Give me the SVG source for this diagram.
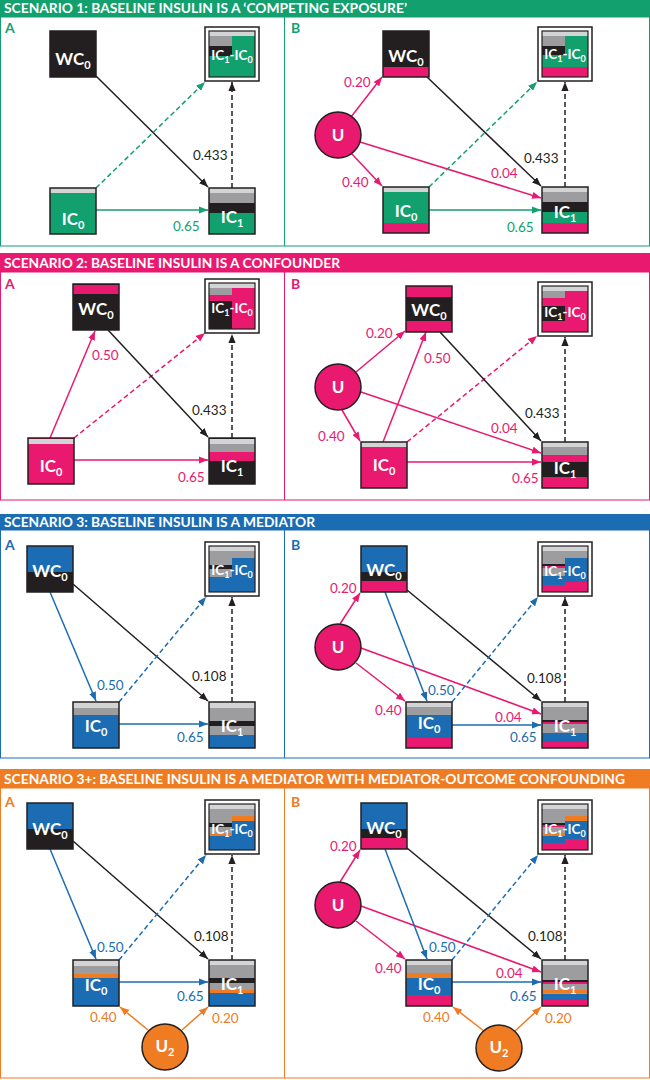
<svg xmlns="http://www.w3.org/2000/svg" width="650" height="1080" viewBox="0 0 650 1080">
<defs>
<style>
.k{fill:#231f20}.g{fill:#12a06e}.p{fill:#e8196f}.b{fill:#1b6cb2}.o{fill:#ef7b22}.gr{fill:#9d9d9f}.lg{fill:#d3d4d5}
.bd{fill:none;stroke:#231f20;stroke-width:1.5}
.ib{fill:none;stroke:#231f20;stroke-width:1.2}
.ob{fill:#fff;stroke:#231f20;stroke-width:1.5}
.nt{font-family:Lato,'Liberation Sans',sans-serif;font-weight:700;fill:#fff;font-size:17px;text-anchor:middle}
.dt{font-size:13.5px}
.sub{font-size:11px}
.sb{font-size:9px}
.hd{font-family:Lato,'Liberation Sans',sans-serif;font-weight:700;fill:#fff;font-size:12.5px}
.pl{font-family:Lato,'Liberation Sans',sans-serif;font-weight:700;font-size:14px}
.lb{font-family:Lato,'Liberation Sans',sans-serif;font-size:13.5px}
.e{stroke-width:1.5;fill:none}
.ek{stroke:#231f20}.eg{stroke:#12a06e}.ep{stroke:#e8196f}.eb{stroke:#1b6cb2}.eo{stroke:#ef7b22}
.d{stroke-dasharray:5 3}
.cu{stroke:#231f20;stroke-width:1.5}
.tk{fill:#231f20}.tg{fill:#12a06e}.tp{fill:#e8196f}.tb{fill:#1b6cb2}.to{fill:#ef7b22}
</style>
<marker id="mk" viewBox="0 0 10 8" refX="10" refY="4" markerWidth="9" markerHeight="7.2" markerUnits="userSpaceOnUse" orient="auto"><path d="M0,0 L10,4 L0,8 z" fill="#231f20"/></marker>
<marker id="mg" viewBox="0 0 10 8" refX="10" refY="4" markerWidth="9" markerHeight="7.2" markerUnits="userSpaceOnUse" orient="auto"><path d="M0,0 L10,4 L0,8 z" fill="#12a06e"/></marker>
<marker id="mp" viewBox="0 0 10 8" refX="10" refY="4" markerWidth="9" markerHeight="7.2" markerUnits="userSpaceOnUse" orient="auto"><path d="M0,0 L10,4 L0,8 z" fill="#e8196f"/></marker>
<marker id="mb" viewBox="0 0 10 8" refX="10" refY="4" markerWidth="9" markerHeight="7.2" markerUnits="userSpaceOnUse" orient="auto"><path d="M0,0 L10,4 L0,8 z" fill="#1b6cb2"/></marker>
<marker id="mo" viewBox="0 0 10 8" refX="10" refY="4" markerWidth="9" markerHeight="7.2" markerUnits="userSpaceOnUse" orient="auto"><path d="M0,0 L10,4 L0,8 z" fill="#ef7b22"/></marker>
</defs>
<rect width="650" height="1080" fill="#fff"/>

<!-- Panels and headers -->
<g id="panels">
<rect x="0" y="0" width="650" height="17" fill="#12a06e"/>
<text class="hd" x="4" y="12.5" textLength="403" lengthAdjust="spacingAndGlyphs">SCENARIO 1: BASELINE INSULIN IS A ‘COMPETING EXPOSURE’</text>
<rect x="0.5" y="17" width="649" height="229" fill="none" stroke="#12a06e" stroke-width="1"/>
<line x1="284.5" y1="17" x2="284.5" y2="246" stroke="#12a06e" stroke-width="1"/>
<text class="pl tg" x="5" y="33">A</text><text class="pl tg" x="291" y="33">B</text>

<rect x="0" y="253" width="650" height="19" fill="#e8196f"/>
<text class="hd" x="4" y="268" textLength="336" lengthAdjust="spacingAndGlyphs">SCENARIO 2: BASELINE INSULIN IS A CONFOUNDER</text>
<rect x="0.5" y="272" width="649" height="228" fill="none" stroke="#e8196f" stroke-width="1"/>
<line x1="284.5" y1="272" x2="284.5" y2="500" stroke="#e8196f" stroke-width="1"/>
<text class="pl tp" x="5" y="289">A</text><text class="pl tp" x="291" y="289">B</text>

<rect x="0" y="514" width="650" height="16" fill="#1b6cb2"/>
<text class="hd" x="4" y="527" textLength="311" lengthAdjust="spacingAndGlyphs">SCENARIO 3: BASELINE INSULIN IS A MEDIATOR</text>
<rect x="0.5" y="530" width="649" height="228" fill="none" stroke="#1b6cb2" stroke-width="1"/>
<line x1="284.5" y1="530" x2="284.5" y2="758" stroke="#1b6cb2" stroke-width="1"/>
<text class="pl tb" x="5" y="550">A</text><text class="pl tb" x="291" y="550">B</text>

<rect x="0" y="769" width="650" height="19" fill="#ef7b22"/>
<text class="hd" x="4" y="784" textLength="621" lengthAdjust="spacingAndGlyphs">SCENARIO 3+: BASELINE INSULIN IS A MEDIATOR WITH MEDIATOR-OUTCOME CONFOUNDING</text>
<rect x="0.5" y="788" width="649" height="290" fill="none" stroke="#ef7b22" stroke-width="1"/>
<line x1="284.5" y1="788" x2="284.5" y2="1078" stroke="#ef7b22" stroke-width="1"/>
<text class="pl to" x="5" y="807">A</text><text class="pl to" x="291" y="807">B</text>
</g>

<!-- Connectors -->
<g id="connectors">
<!-- S1A -->
<line class="e ek" x1="96" y1="76" x2="208" y2="187" marker-end="url(#mk)"/>
<line class="e eg d" x1="96" y1="188" x2="205" y2="82" marker-end="url(#mg)"/>
<line class="e eg" x1="96" y1="210" x2="208" y2="210" marker-end="url(#mg)"/>
<line class="e ek d" x1="232" y1="188" x2="232" y2="82" marker-end="url(#mk)"/>
<!-- S1B -->
<line class="e ep" x1="351" y1="117" x2="382" y2="77" marker-end="url(#mp)"/>
<line class="e ep" x1="351" y1="153" x2="382" y2="186" marker-end="url(#mp)"/>
<line class="e ep" x1="360" y1="142" x2="541" y2="198" marker-end="url(#mp)"/>
<line class="e ek" x1="427" y1="77" x2="541" y2="186" marker-end="url(#mk)"/>
<line class="e eg d" x1="429" y1="187" x2="537" y2="82" marker-end="url(#mg)"/>
<line class="e eg" x1="429" y1="210" x2="541" y2="210" marker-end="url(#mg)"/>
<line class="e ek d" x1="565" y1="187" x2="565" y2="82" marker-end="url(#mk)"/>
<!-- S2A -->
<line class="e ep" x1="50" y1="438" x2="95" y2="331" marker-end="url(#mp)"/>
<line class="e ep d" x1="74" y1="438" x2="205" y2="333" marker-end="url(#mp)"/>
<line class="e ek" x1="108" y1="330" x2="208" y2="437" marker-end="url(#mk)"/>
<line class="e ep" x1="74" y1="460" x2="208" y2="460" marker-end="url(#mp)"/>
<line class="e ek d" x1="232" y1="438" x2="232" y2="334" marker-end="url(#mk)"/>
<!-- S2B -->
<line class="e ep" x1="356" y1="372" x2="405" y2="331" marker-end="url(#mp)"/>
<line class="e ep" x1="342" y1="410" x2="360" y2="441" marker-end="url(#mp)"/>
<line class="e ep" x1="361" y1="392" x2="541" y2="453" marker-end="url(#mp)"/>
<line class="e ep" x1="383" y1="442" x2="426" y2="332" marker-end="url(#mp)"/>
<line class="e ep d" x1="407" y1="442" x2="537" y2="336" marker-end="url(#mp)"/>
<line class="e ek" x1="440" y1="332" x2="541" y2="441" marker-end="url(#mk)"/>
<line class="e ep" x1="407" y1="462" x2="541" y2="462" marker-end="url(#mp)"/>
<line class="e ek d" x1="565" y1="442" x2="565" y2="337" marker-end="url(#mk)"/>
<!-- S3A -->
<line class="e eb" x1="50" y1="592" x2="96" y2="701" marker-end="url(#mb)"/>
<line class="e ek" x1="73" y1="584" x2="208" y2="701" marker-end="url(#mk)"/>
<line class="e eb d" x1="119" y1="702" x2="206" y2="597" marker-end="url(#mb)"/>
<line class="e eb" x1="119" y1="724" x2="208" y2="724" marker-end="url(#mb)"/>
<line class="e ek d" x1="232" y1="702" x2="232" y2="597" marker-end="url(#mk)"/>
<!-- S3B -->
<line class="e ep" x1="340" y1="624" x2="360" y2="593" marker-end="url(#mp)"/>
<line class="e ep" x1="356" y1="663" x2="405" y2="701" marker-end="url(#mp)"/>
<line class="e ep" x1="361" y1="648" x2="541" y2="714" marker-end="url(#mp)"/>
<line class="e eb" x1="385" y1="592" x2="427" y2="701" marker-end="url(#mb)"/>
<line class="e ek" x1="407" y1="590" x2="541" y2="701" marker-end="url(#mk)"/>
<line class="e eb d" x1="452" y1="702" x2="538" y2="597" marker-end="url(#mb)"/>
<line class="e eb" x1="452" y1="725" x2="541" y2="725" marker-end="url(#mb)"/>
<line class="e ek d" x1="565" y1="702" x2="565" y2="597" marker-end="url(#mk)"/>
<!-- S3+A -->
<line class="e eb" x1="50" y1="849" x2="96" y2="959" marker-end="url(#mb)"/>
<line class="e ek" x1="73" y1="841" x2="208" y2="959" marker-end="url(#mk)"/>
<line class="e eb d" x1="119" y1="960" x2="206" y2="855" marker-end="url(#mb)"/>
<line class="e eb" x1="119" y1="982" x2="208" y2="982" marker-end="url(#mb)"/>
<line class="e ek d" x1="232" y1="960" x2="232" y2="855" marker-end="url(#mk)"/>
<line class="e eo" x1="148" y1="1030" x2="120" y2="1007" marker-end="url(#mo)"/>
<line class="e eo" x1="182" y1="1030" x2="208" y2="1007" marker-end="url(#mo)"/>
<!-- S3+B -->
<line class="e ep" x1="340" y1="882" x2="360" y2="850" marker-end="url(#mp)"/>
<line class="e ep" x1="356" y1="921" x2="405" y2="959" marker-end="url(#mp)"/>
<line class="e ep" x1="361" y1="906" x2="541" y2="972" marker-end="url(#mp)"/>
<line class="e eb" x1="385" y1="849" x2="427" y2="959" marker-end="url(#mb)"/>
<line class="e ek" x1="407" y1="848" x2="541" y2="959" marker-end="url(#mk)"/>
<line class="e eb d" x1="452" y1="960" x2="538" y2="855" marker-end="url(#mb)"/>
<line class="e eb" x1="452" y1="982" x2="541" y2="982" marker-end="url(#mb)"/>
<line class="e ek d" x1="565" y1="960" x2="565" y2="855" marker-end="url(#mk)"/>
<line class="e eo" x1="484" y1="1031" x2="453" y2="1007" marker-end="url(#mo)"/>
<line class="e eo" x1="515" y1="1031" x2="541" y2="1007" marker-end="url(#mo)"/>
</g>

<!-- Edge labels -->
<g id="labels" class="lb">
<text class="tk" x="193" y="160">0.433</text><text class="tg" x="173" y="231">0.65</text>
<text class="tp" x="344" y="87">0.20</text><text class="tp" x="342" y="187">0.40</text><text class="tp" x="491" y="178">0.04</text><text class="tg" x="507" y="232">0.65</text><text class="tk" x="524" y="163">0.433</text>
<text class="tp" x="92" y="360">0.50</text><text class="tk" x="192" y="415">0.433</text><text class="tp" x="178" y="482">0.65</text>
<text class="tp" x="366" y="338">0.20</text><text class="tp" x="318" y="441">0.40</text><text class="tp" x="491" y="433">0.04</text><text class="tp" x="424" y="363">0.50</text><text class="tp" x="512" y="483">0.65</text><text class="tk" x="525" y="418">0.433</text>
<text class="tb" x="97" y="690">0.50</text><text class="tk" x="192" y="681">0.108</text><text class="tb" x="177" y="742">0.65</text>
<text class="tp" x="330" y="593">0.20</text><text class="tp" x="375" y="715">0.40</text><text class="tp" x="495" y="722">0.04</text><text class="tb" x="428" y="695">0.50</text><text class="tb" x="510" y="742">0.65</text><text class="tk" x="527" y="683">0.108</text>
<text class="tb" x="97" y="952">0.50</text><text class="tk" x="194" y="941">0.108</text><text class="tb" x="177" y="1001">0.65</text><text class="to" x="90" y="1022">0.40</text><text class="to" x="212" y="1023">0.20</text>
<text class="tp" x="330" y="851">0.20</text><text class="tp" x="375" y="973">0.40</text><text class="tp" x="496" y="978">0.04</text><text class="tb" x="429" y="952">0.50</text><text class="tb" x="510" y="1001">0.65</text><text class="tk" x="528" y="941">0.108</text><text class="to" x="423" y="1022">0.40</text><text class="to" x="545" y="1023">0.20</text>
</g>

<!-- ===== Scenario 1A nodes ===== -->
<g id="s1a-wc0" transform="translate(50,31)">
<rect class="k" width="46" height="46"/><rect class="bd" width="46" height="46"/>
<text class="nt" x="23" y="34">WC<tspan class="sub" dy="4">0</tspan></text>
</g>
<g id="s1a-diff" transform="translate(209,31)">
<rect class="ob" x="-4" y="-4" width="54" height="54"/>
<rect class="lg" width="46" height="5"/>
<rect class="gr" y="5" width="23" height="10"/><rect class="k" y="15" width="23" height="10"/><rect class="g" y="25" width="23" height="21"/>
<rect class="g" x="23" y="5" width="23" height="41"/>
<rect class="ib" width="46" height="46"/>
<text class="nt dt" x="23" y="29">IC<tspan class="sb" dy="3">1</tspan><tspan dy="-3">-IC</tspan><tspan class="sb" dy="3">0</tspan></text>
</g>
<g id="s1a-ic0" transform="translate(50,188)">
<rect class="g" width="46" height="46"/><rect class="lg" width="46" height="5"/><rect class="bd" width="46" height="46"/>
<text class="nt" x="23" y="37">IC<tspan class="sub" dy="4">0</tspan></text>
</g>
<g id="s1a-ic1" transform="translate(209,188)">
<rect class="g" width="46" height="46"/><rect class="lg" width="46" height="5"/><rect class="gr" y="5" width="46" height="10"/><rect class="k" y="15" width="46" height="10"/>
<rect class="bd" width="46" height="46"/>
<text class="nt" x="23" y="35">IC<tspan class="sub" dy="4">1</tspan></text>
</g>

<!-- ===== Scenario 1B nodes ===== -->
<g id="s1b-u">
<circle cx="338" cy="135" r="23" fill="#e8196f" class="cu"/>
<text class="nt" x="338" y="141">U</text>
</g>
<g id="s1b-wc0" transform="translate(383,31)">
<rect class="k" width="46" height="46"/><rect class="p" y="36" width="46" height="10"/><rect class="bd" width="46" height="46"/>
<text class="nt" x="23" y="31">WC<tspan class="sub" dy="4">0</tspan></text>
</g>
<g id="s1b-diff" transform="translate(542,31)">
<rect class="ob" x="-4" y="-4" width="54" height="54"/>
<rect class="lg" width="46" height="5"/>
<rect class="gr" y="5" width="23" height="10"/><rect class="k" y="15" width="23" height="9"/><rect class="g" y="24" width="23" height="12"/><rect class="p" y="36" width="23" height="10"/>
<rect class="g" x="23" y="5" width="23" height="31"/><rect class="p" x="23" y="36" width="23" height="10"/>
<rect class="ib" width="46" height="46"/>
<text class="nt dt" x="23" y="28">IC<tspan class="sb" dy="3">1</tspan><tspan dy="-3">-IC</tspan><tspan class="sb" dy="3">0</tspan></text>
</g>
<g id="s1b-ic0" transform="translate(383,187)">
<rect class="g" width="46" height="46"/><rect class="lg" width="46" height="5"/><rect class="p" y="36" width="46" height="10"/><rect class="bd" width="46" height="46"/>
<text class="nt" x="23" y="30">IC<tspan class="sub" dy="4">0</tspan></text>
</g>
<g id="s1b-ic1" transform="translate(542,187)">
<rect class="g" width="46" height="46"/><rect class="lg" width="46" height="5"/><rect class="gr" y="5" width="46" height="10"/><rect class="k" y="15" width="46" height="10"/><rect class="p" y="36" width="46" height="10"/>
<rect class="bd" width="46" height="46"/>
<text class="nt" x="23" y="31">IC<tspan class="sub" dy="4">1</tspan></text>
</g>

<!-- ===== Scenario 2A nodes ===== -->
<g id="s2a-wc0" transform="translate(73,284)">
<rect class="k" width="46" height="46"/><rect class="p" y="1" width="46" height="9"/><rect class="bd" width="46" height="46"/>
<text class="nt" x="23" y="31">WC<tspan class="sub" dy="4">0</tspan></text>
</g>
<g id="s2a-diff" transform="translate(209,283)">
<rect class="ob" x="-4" y="-4" width="54" height="54"/>
<rect class="lg" width="46" height="5"/>
<rect class="gr" y="5" width="23" height="7"/><rect class="p" y="12" width="23" height="6"/><rect class="k" y="18" width="23" height="28"/>
<rect class="p" x="23" y="5" width="23" height="41"/>
<rect class="ib" width="46" height="46"/>
<text class="nt dt" x="23" y="30">IC<tspan class="sb" dy="3">1</tspan><tspan dy="-3">-IC</tspan><tspan class="sb" dy="3">0</tspan></text>
</g>
<g id="s2a-ic0" transform="translate(28,438)">
<rect class="p" width="46" height="46"/><rect class="lg" y="1" width="46" height="5"/><rect class="bd" width="46" height="46"/>
<text class="nt" x="23" y="34">IC<tspan class="sub" dy="4">0</tspan></text>
</g>
<g id="s2a-ic1" transform="translate(209,438)">
<rect class="k" width="46" height="46"/><rect class="lg" y="1" width="46" height="5"/><rect class="gr" y="6" width="46" height="8"/><rect class="p" y="14" width="46" height="9"/>
<rect class="bd" width="46" height="46"/>
<text class="nt" x="23" y="34">IC<tspan class="sub" dy="4">1</tspan></text>
</g>

<!-- ===== Scenario 2B nodes ===== -->
<g id="s2b-u">
<circle cx="338" cy="387" r="23" fill="#e8196f" class="cu"/>
<text class="nt" x="338" y="393">U</text>
</g>
<g id="s2b-wc0" transform="translate(406,286)">
<rect class="k" width="46" height="46"/><rect class="p" width="46" height="11"/><rect class="p" y="35" width="46" height="11"/><rect class="bd" width="46" height="46"/>
<text class="nt" x="23" y="30">WC<tspan class="sub" dy="4">0</tspan></text>
</g>
<g id="s2b-diff" transform="translate(542,286)">
<rect class="ob" x="-4" y="-4" width="54" height="54"/>
<rect class="lg" width="46" height="5"/>
<rect class="gr" y="5" width="23" height="7"/><rect class="p" y="12" width="23" height="8"/><rect class="k" y="20" width="23" height="15"/><rect class="p" y="35" width="23" height="11"/>
<rect class="p" x="23" y="5" width="23" height="41"/>
<rect class="ib" width="46" height="46"/>
<text class="nt dt" x="23" y="31">IC<tspan class="sb" dy="3">1</tspan><tspan dy="-3">-IC</tspan><tspan class="sb" dy="3">0</tspan></text>
</g>
<g id="s2b-ic0" transform="translate(361,442)">
<rect class="p" width="46" height="46"/><rect class="lg" width="46" height="5"/><rect class="bd" width="46" height="46"/>
<text class="nt" x="23" y="29">IC<tspan class="sub" dy="4">0</tspan></text>
</g>
<g id="s2b-ic1" transform="translate(542,442)">
<rect class="p" width="46" height="46"/><rect class="lg" width="46" height="5"/><rect class="gr" y="5" width="46" height="8"/><rect class="k" y="20" width="46" height="15"/>
<rect class="bd" width="46" height="46"/>
<text class="nt" x="23" y="32">IC<tspan class="sub" dy="4">1</tspan></text>
</g>

<!-- ===== Scenario 3A nodes ===== -->
<g id="s3a-wc0" transform="translate(27,546)">
<rect class="k" width="46" height="46"/><rect class="b" width="46" height="26"/><rect class="bd" width="46" height="46"/>
<text class="nt" x="23" y="31">WC<tspan class="sub" dy="4">0</tspan></text>
</g>
<g id="s3a-diff" transform="translate(209,546)">
<rect class="ob" x="-4" y="-4" width="54" height="54"/>
<rect class="lg" width="46" height="5"/>
<rect class="gr" y="5" width="23" height="26"/><rect class="k" y="19" width="23" height="4"/><rect class="b" y="31" width="23" height="15"/>
<rect class="gr" x="23" y="5" width="23" height="7"/><rect class="b" x="23" y="12" width="23" height="34"/>
<rect class="ib" width="46" height="46"/>
<text class="nt dt" x="23" y="29">IC<tspan class="sb" dy="3">1</tspan><tspan dy="-3">-IC</tspan><tspan class="sb" dy="3">0</tspan></text>
</g>
<g id="s3a-ic0" transform="translate(73,702)">
<rect class="b" width="46" height="46"/><rect class="lg" width="46" height="6"/><rect class="gr" y="6" width="46" height="7"/><rect class="bd" width="46" height="46"/>
<text class="nt" x="23" y="30">IC<tspan class="sub" dy="4">0</tspan></text>
</g>
<g id="s3a-ic1" transform="translate(209,702)">
<rect class="b" width="46" height="46"/><rect class="lg" width="46" height="6"/><rect class="gr" y="6" width="46" height="27"/><rect class="k" y="19" width="46" height="5"/>
<rect class="bd" width="46" height="46"/>
<text class="nt" x="23" y="30">IC<tspan class="sub" dy="4">1</tspan></text>
</g>

<!-- ===== Scenario 3B nodes ===== -->
<g id="s3b-u">
<circle cx="338" cy="647" r="23" fill="#e8196f" class="cu"/>
<text class="nt" x="338" y="653">U</text>
</g>
<g id="s3b-wc0" transform="translate(361,546)">
<rect class="b" width="46" height="26"/><rect class="k" y="26" width="46" height="9"/><rect class="p" y="35" width="46" height="11"/><rect class="bd" width="46" height="46"/>
<text class="nt" x="23" y="30">WC<tspan class="sub" dy="4">0</tspan></text>
</g>
<g id="s3b-diff" transform="translate(542,546)">
<rect class="ob" x="-4" y="-4" width="54" height="54"/>
<rect class="lg" width="46" height="5"/>
<rect class="gr" y="5" width="23" height="25"/><rect class="k" y="18" width="23" height="2"/><rect class="p" y="20" width="23" height="2"/><rect class="b" y="30" width="23" height="9"/><rect class="p" y="39" width="23" height="7"/>
<rect class="gr" x="23" y="5" width="23" height="7"/><rect class="b" x="23" y="12" width="23" height="24"/><rect class="p" x="23" y="36" width="23" height="10"/>
<rect class="ib" width="46" height="46"/>
<text class="nt dt" x="23" y="30">IC<tspan class="sb" dy="3">1</tspan><tspan dy="-3">-IC</tspan><tspan class="sb" dy="3">0</tspan></text>
</g>
<g id="s3b-ic0" transform="translate(406,702)">
<rect class="b" width="46" height="46"/><rect class="lg" width="46" height="5"/><rect class="gr" y="5" width="46" height="8"/><rect class="p" y="36" width="46" height="10"/><rect class="bd" width="46" height="46"/>
<text class="nt" x="23" y="27">IC<tspan class="sub" dy="4">0</tspan></text>
</g>
<g id="s3b-ic1" transform="translate(542,702)">
<rect class="gr" width="46" height="46"/><rect class="lg" width="46" height="5"/><rect class="k" y="18" width="46" height="2"/><rect class="p" y="20" width="46" height="2"/><rect class="b" y="31" width="46" height="9"/><rect class="p" y="40" width="46" height="6"/>
<rect class="bd" width="46" height="46"/>
<text class="nt" x="23" y="30">IC<tspan class="sub" dy="4">1</tspan></text>
</g>

<!-- ===== Scenario 3+A nodes ===== -->
<g id="s3pa-wc0" transform="translate(27,803)">
<rect class="k" width="46" height="46"/><rect class="b" width="46" height="26"/><rect class="bd" width="46" height="46"/>
<text class="nt" x="23" y="32">WC<tspan class="sub" dy="4">0</tspan></text>
</g>
<g id="s3pa-diff" transform="translate(209,804)">
<rect class="ob" x="-4" y="-4" width="54" height="54"/>
<rect class="lg" width="46" height="5"/>
<rect class="gr" y="5" width="23" height="24"/><rect class="k" y="19" width="23" height="4"/><rect class="o" y="29" width="23" height="3"/><rect class="b" y="32" width="23" height="14"/>
<rect class="gr" x="23" y="5" width="23" height="7"/><rect class="o" x="23" y="12" width="23" height="5"/><rect class="b" x="23" y="17" width="23" height="29"/>
<rect class="ib" width="46" height="46"/>
<text class="nt dt" x="23" y="30">IC<tspan class="sb" dy="3">1</tspan><tspan dy="-3">-IC</tspan><tspan class="sb" dy="3">0</tspan></text>
</g>
<g id="s3pa-ic0" transform="translate(73,960)">
<rect class="b" width="46" height="46"/><rect class="lg" width="46" height="6"/><rect class="gr" y="6" width="46" height="8"/><rect class="o" y="14" width="46" height="4"/><rect class="bd" width="46" height="46"/>
<text class="nt" x="23" y="31">IC<tspan class="sub" dy="4">0</tspan></text>
</g>
<g id="s3pa-ic1" transform="translate(209,960)">
<rect class="b" width="46" height="46"/><rect class="lg" width="46" height="5"/><rect class="gr" y="5" width="46" height="25"/><rect class="k" y="18" width="46" height="5"/><rect class="o" y="30" width="46" height="3"/>
<rect class="bd" width="46" height="46"/>
<text class="nt" x="23" y="30">IC<tspan class="sub" dy="4">1</tspan></text>
</g>
<g id="s3pa-u2">
<circle cx="165" cy="1047" r="23" fill="#ef7b22" class="cu"/>
<text class="nt" x="165" y="1052">U<tspan class="sub" dy="4">2</tspan></text>
</g>

<!-- ===== Scenario 3+B nodes ===== -->
<g id="s3pb-u">
<circle cx="338" cy="905" r="23" fill="#e8196f" class="cu"/>
<text class="nt" x="338" y="911">U</text>
</g>
<g id="s3pb-wc0" transform="translate(361,803)">
<rect class="b" width="46" height="26"/><rect class="k" y="26" width="46" height="9"/><rect class="p" y="35" width="46" height="11"/><rect class="bd" width="46" height="46"/>
<text class="nt" x="23" y="31">WC<tspan class="sub" dy="4">0</tspan></text>
</g>
<g id="s3pb-diff" transform="translate(542,804)">
<rect class="ob" x="-4" y="-4" width="54" height="54"/>
<rect class="lg" width="46" height="5"/>
<rect class="gr" y="5" width="23" height="24"/><rect class="k" y="19" width="23" height="2"/><rect class="p" y="21" width="23" height="2"/><rect class="o" y="29" width="23" height="3"/><rect class="b" y="32" width="23" height="7"/><rect class="p" y="39" width="23" height="7"/>
<rect class="gr" x="23" y="5" width="23" height="7"/><rect class="o" x="23" y="12" width="23" height="5"/><rect class="b" x="23" y="17" width="23" height="18"/><rect class="p" x="23" y="35" width="23" height="11"/>
<rect class="ib" width="46" height="46"/>
<text class="nt dt" x="23" y="30">IC<tspan class="sb" dy="3">1</tspan><tspan dy="-3">-IC</tspan><tspan class="sb" dy="3">0</tspan></text>
</g>
<g id="s3pb-ic0" transform="translate(406,960)">
<rect class="b" width="46" height="46"/><rect class="lg" width="46" height="5"/><rect class="gr" y="5" width="46" height="8"/><rect class="o" y="13" width="46" height="5"/><rect class="p" y="35" width="46" height="11"/><rect class="bd" width="46" height="46"/>
<text class="nt" x="23" y="30">IC<tspan class="sub" dy="4">0</tspan></text>
</g>
<g id="s3pb-ic1" transform="translate(542,960)">
<rect class="gr" width="46" height="46"/><rect class="lg" width="46" height="5"/><rect class="k" y="20" width="46" height="2"/><rect class="p" y="22" width="46" height="2"/><rect class="o" y="30" width="46" height="3"/><rect class="b" y="34" width="46" height="6"/><rect class="p" y="40" width="46" height="6"/>
<rect class="bd" width="46" height="46"/>
<text class="nt" x="23" y="30">IC<tspan class="sub" dy="4">1</tspan></text>
</g>
<g id="s3pb-u2">
<circle cx="499" cy="1048" r="23" fill="#ef7b22" class="cu"/>
<text class="nt" x="499" y="1053">U<tspan class="sub" dy="4">2</tspan></text>
</g>
</svg>
